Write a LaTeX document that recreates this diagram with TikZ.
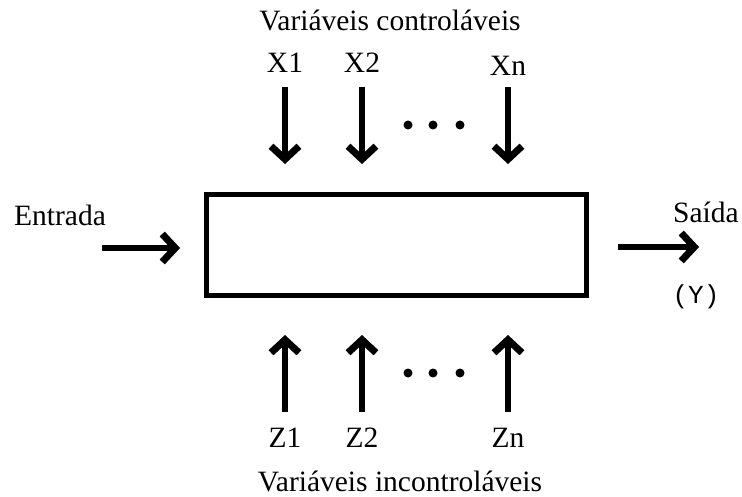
\documentclass[tikz,border=0pt]{standalone}
\usepackage{fontspec}
\setmainfont{Liberation Serif}
\newfontfamily\monof{Liberation Mono}
\usetikzlibrary{arrows.meta}
\begin{document}
\begin{tikzpicture}[x=1pt,y=-1pt,
  lbl/.style={inner sep=0pt,font=\fontsize{29.5}{34}\selectfont},
  bigarrow/.style={line width=6pt,-{Straight Barb[length=13pt,width=28pt,line width=7pt]}},
  dotmark/.style={circle,fill=black,inner sep=0pt,minimum size=9pt}]
\useasboundingbox (0,0) rectangle (742,497);
% box
\node[draw,line width=5pt,minimum width=380pt,minimum height=101pt,inner sep=0pt] (box) at (396.5,245) {};
% top labels
\node[lbl] (vc) at (390,20) {Variáveis controláveis};
\node[lbl] (x1) at (285,63) {X1};
\node[lbl] (x2) at (362,63) {X2};
\node[lbl] (xn) at (508,66) {Xn};
% top arrows
\coordinate (x1s) at (285,87); \coordinate (x1e) at (285,164);
\coordinate (x2s) at (362,87); \coordinate (x2e) at (362,164);
\coordinate (xns) at (508,87); \coordinate (xne) at (508,164);
\draw[bigarrow] (x1s) -- (x1e);
\draw[bigarrow] (x2s) -- (x2e);
\draw[bigarrow] (xns) -- (xne);
\node[dotmark] (d1) at (408,125) {};
\node[dotmark] (d2) at (433,125) {};
\node[dotmark] (d3) at (460,125) {};
% bottom arrows
\coordinate (z1s) at (285,412); \coordinate (z1e) at (285,335);
\coordinate (z2s) at (362,412); \coordinate (z2e) at (362,335);
\coordinate (zns) at (508,412); \coordinate (zne) at (508,335);
\draw[bigarrow] (z1s) -- (z1e);
\draw[bigarrow] (z2s) -- (z2e);
\draw[bigarrow] (zns) -- (zne);
\node[dotmark] (e1) at (408,373) {};
\node[dotmark] (e2) at (433,373) {};
\node[dotmark] (e3) at (460,373) {};
\node[lbl] (z1) at (285,438) {Z1};
\node[lbl] (z2) at (362,438) {Z2};
\node[lbl] (zn) at (508,438) {Zn};
\node[lbl] (vi) at (400,481) {Variáveis incontroláveis};
% input/output
\node[lbl] (ent) at (60,215) {Entrada};
\coordinate (ins) at (102,248); \coordinate (ine) at (180,248);
\draw[bigarrow] (ins) -- (ine);
\node[lbl] (sai) at (706,212) {Saída};
\coordinate (outs) at (618,247); \coordinate (oute) at (699,247);
\draw[bigarrow] (outs) -- (oute);
\node[lbl,font=\monof\fontsize{26}{30}\selectfont] (y) at (696,297) {(Y)};
\end{tikzpicture}
\end{document}
